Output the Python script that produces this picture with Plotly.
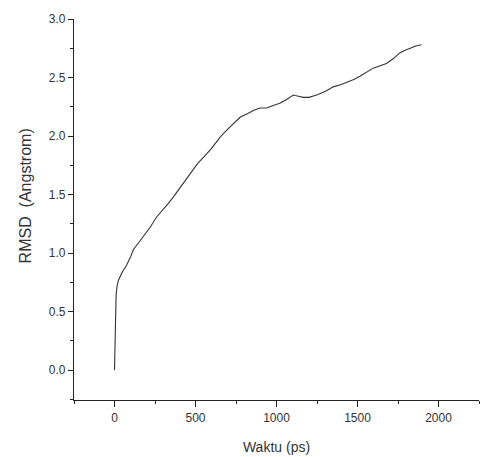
import plotly.graph_objects as go

# RMSD trajectory over simulation time
waktu_ps = [0, 3, 6, 10, 16, 25, 45, 76, 100, 117, 150, 179, 220, 261, 300, 330, 364,
            400, 435, 467, 510, 550, 590, 630, 652, 693, 730, 775, 820, 860, 898,
            940, 980, 1020, 1060, 1104, 1135, 1165, 1200, 1248, 1300, 1350, 1400,
            1440, 1473, 1515, 1560, 1597, 1640, 1679, 1720, 1761, 1790, 1823, 1860, 1895]
rmsd_angstrom = [0.00, 0.20, 0.40, 0.64, 0.72, 0.77, 0.83, 0.90, 0.97, 1.03, 1.09, 1.14,
                 1.22, 1.31, 1.37, 1.42, 1.48, 1.55, 1.61, 1.68, 1.76, 1.82, 1.88, 1.95,
                 1.99, 2.05, 2.10, 2.16, 2.19, 2.22, 2.24, 2.24, 2.26, 2.28, 2.31, 2.35,
                 2.34, 2.33, 2.33, 2.35, 2.38, 2.42, 2.44, 2.46, 2.48, 2.51, 2.55, 2.58,
                 2.60, 2.62, 2.66, 2.71, 2.73, 2.75, 2.77, 2.78]

x_ticks = [0, 500, 1000, 1500, 2000]
y_ticks = [0.0, 0.5, 1.0, 1.5, 2.0, 2.5, 3.0]

fig = go.Figure()
fig.add_trace(go.Scatter(
    x=waktu_ps, y=rmsd_angstrom, mode="lines",
    line=dict(color="#333333", width=1.1),
    showlegend=False,
))

family = "Liberation Sans, Arial, sans-serif"
axis_font = dict(family=family, size=12, color="#333333")

fig.update_layout(
    width=481, height=457,
    margin=dict(l=74, r=2, t=19, b=57),
    paper_bgcolor="white", plot_bgcolor="white",
    xaxis=dict(
        range=[-250, 2250], tickvals=x_ticks, ticktext=[str(v) for v in x_ticks],
        showgrid=False, zeroline=False, showline=True, linecolor="#222222", linewidth=1.2,
        ticks="outside", ticklen=6, tickwidth=1.2, tickcolor="#222222",
        minor=dict(dtick=250, tick0=0, ticks="outside", ticklen=3, tickcolor="#222222", tickwidth=1),
        tickfont=axis_font,
        title=dict(text="Waktu (ps)", font=dict(family=family, size=14, color="#333333"), standoff=18),
    ),
    yaxis=dict(
        range=[-0.256, 3.0], tickvals=y_ticks, ticktext=[f"{v:.1f}" for v in y_ticks],
        showgrid=False, zeroline=False, showline=True, linecolor="#222222", linewidth=1.2,
        ticks="outside", ticklen=5, tickwidth=1.2, tickcolor="#222222",
        minor=dict(dtick=0.25, tick0=0, ticks="outside", ticklen=3, tickcolor="#222222", tickwidth=1),
        tickfont=axis_font,
    ),
    annotations=[dict(
        text="RMSD  (Angstrom)", textangle=-90,
        xref="paper", yref="paper", x=-0.121, y=0.537,
        xanchor="center", yanchor="middle", showarrow=False,
        font=dict(family=family, size=16, color="#333333"),
    )],
)

fig.write_html("out.html")
